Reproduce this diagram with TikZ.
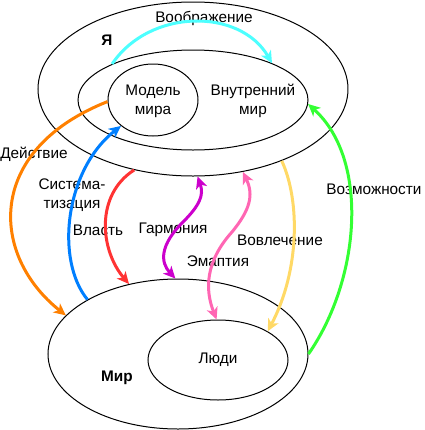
\documentclass[tikz,border=0pt]{standalone}
\usepackage{fontspec}
\setmainfont{Liberation Sans}
\usetikzlibrary{shapes.geometric,arrows.meta}
\definecolor{cCyan}{HTML}{4DFFFF}
\definecolor{cOrange}{HTML}{FF8000}
\definecolor{cBlue}{HTML}{007FFF}
\definecolor{cRed}{HTML}{FF3333}
\definecolor{cPurple}{HTML}{CC00CC}
\definecolor{cPink}{HTML}{FF66B3}
\definecolor{cYellow}{HTML}{FFD966}
\definecolor{cGreen}{HTML}{33FF33}
\begin{document}
\begin{tikzpicture}[x=0.75pt,y=-0.75pt,
  oval/.style={draw=black,line width=0.75pt,ellipse,inner sep=0pt},
  lbl/.style={inner sep=0pt,font=\fontsize{11.5}{14}\selectfont,align=center},
  blbl/.style={lbl,font=\fontsize{11.5}{14}\selectfont\bfseries},
  flow/.style={line width=2.25pt,-{Stealth[length=9pt,width=8.5pt,inset=2.5pt]}},
  both/.style={line width=2.25pt,{Stealth[length=9pt,width=8.5pt,inset=2.5pt]}-{Stealth[length=9pt,width=8.5pt,inset=2.5pt]}}]
\useasboundingbox (0,0) rectangle (425,430);
% ellipses
\node[oval,minimum width=232.5pt,minimum height=130.5pt] (ya) at (193,89) {};
\node[oval,minimum width=172.5pt,minimum height=75pt] (inner) at (193,100) {};
\node[oval,minimum width=67.5pt,minimum height=54pt] (model) at (153,100) {};
\node[oval,minimum width=195pt,minimum height=112.5pt] (world) at (178,354) {};
\node[oval,minimum width=105pt,minimum height=60pt] (people) at (218,360) {};
% texts
\node[blbl] (tya) at (107,40) {Я};
\node[lbl] (tmodel) at (153,101) {Модель\\мира};
\node[lbl] (tinner) at (253,101) {Внутренний\\мир};
\node[blbl] (tworld) at (117,378) {Мир};
\node[lbl] (tpeople) at (218,360) {Люди};
\node[lbl] (limag) at (204,18) {Воображение};
\node[lbl] (lact) at (34,154) {Действие};
\node[lbl] (lsys) at (72,195) {Система-\\тизация};
\node[lbl] (lpow) at (98,230) {Власть};
\node[lbl] (lharm) at (173,230) {Гармония};
\node[lbl] (lemp) at (218,261) {Эмаптия};
\node[lbl] (linv) at (280,240) {Вовлечение};
\node[lbl] (lposs) at (374,189) {Возможности};
% connectors
\draw[flow,cCyan] (inner.156) .. controls (150,8) and (240,8) .. (inner.25);
\draw[flow,cOrange] (model.182) .. controls (-15,150) and (-10,255) .. (world.161);
\draw[flow,cBlue] (world.149) .. controls (55,260) and (65,170) .. (model.219);
\draw[flow,cRed] (ya.234) .. controls (95,195) and (100,250) .. (world.125);
\draw[both,cPurple] (ya.273) .. controls (204,195) and (200,205) .. (183,222) .. controls (160,245) and (160,262) .. (world.92);
\draw[both,cPink] (ya.301) .. controls (254,195) and (250,210) .. (232,232) .. controls (205,262) and (205,290) .. (people.92);
\draw[flow,cYellow] (ya.321) .. controls (300,200) and (300,270) .. (people.30);
\draw[flow,cGreen] (world.east) .. controls (360,280) and (370,160) .. (inner.358);
\end{tikzpicture}
\end{document}
